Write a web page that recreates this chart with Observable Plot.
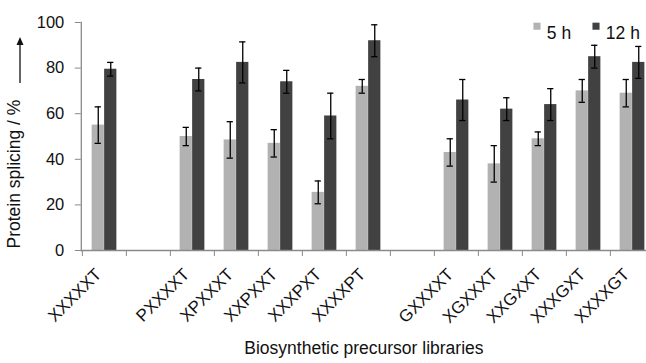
<!DOCTYPE html>
<html>
<head>
<meta charset="utf-8">
<script src="https://cdn.jsdelivr.net/npm/d3@7"></script>
<script src="https://cdn.jsdelivr.net/npm/@observablehq/plot@0.6"></script>
<style>
  html, body { margin: 0; padding: 0; background: #fff; overflow: hidden; }
</style>
</head>
<body>
<div id="chart"></div>
<script>
// ---- data ----
const slots = ["XXXXXT", "gap1", "PXXXXT", "XPXXXT", "XXPXXT", "XXXPXT", "XXXXPT", "gap2",
               "GXXXXT", "XGXXXT", "XXGXXT", "XXXGXT", "XXXXGT"];
const libraries = ["XXXXXT", "PXXXXT", "XPXXXT", "XXPXXT", "XXXPXT", "XXXXPT",
                   "GXXXXT", "XGXXXT", "XXGXXT", "XXXGXT", "XXXXGT"];
const h5    = [55, 50, 48.5, 47, 25.5, 72, 43, 38, 49, 70, 69];
const h5err = [8, 4, 8, 6, 5, 3, 6, 8, 3, 5, 6];
const h12    = [79.5, 75, 82.5, 74, 59, 92, 66, 62, 64, 85, 82.5];
const h12err = [3, 5, 9, 5, 10, 7, 9, 5, 7, 5, 7];
const yTicks = [0, 20, 40, 60, 80, 100];
const seriesNames = ["5 h", "12 h"];
const colors = ["#b2b2b2", "#414141"];

// ---- layout ----
const W = 646, H = 363;
const mL = 80.8, mR = -10, mT = 22, mB = 113;
const band = (W - mL - mR) / slots.length;
const barW = 12.5, capW = 6.5;
const pairL = (band - 2 * barW) / 2;

const rows5 = libraries.map((k, i) => ({lib: k, v: h5[i], e: h5err[i]}));
const rows12 = libraries.map((k, i) => ({lib: k, v: h12[i], e: h12err[i]}));

const lightC = pairL + barW / 2;
const darkC = pairL + barW * 1.5;
const axisGray = "#8a8a8a";
const FONT = "'Liberation Sans', Arial, sans-serif";

const plot = Plot.plot({
  width: W,
  height: H,
  marginLeft: mL,
  marginRight: mR,
  marginTop: mT,
  marginBottom: mB,
  style: {fontFamily: FONT, background: "#fff", overflow: "hidden"},
  x: {domain: slots, padding: 0, axis: null},
  y: {domain: [0, 100], axis: null},
  marks: [
    Plot.barY(rows5, {x: "lib", y: "v", fill: colors[0],
      insetLeft: pairL, insetRight: band - pairL - barW}),
    Plot.barY(rows12, {x: "lib", y: "v", fill: colors[1],
      insetLeft: pairL + barW, insetRight: pairL}),
    Plot.ruleX(rows5, {x: "lib", y1: d => d.v - d.e, y2: d => d.v + d.e,
      dx: lightC - band / 2, stroke: "#000", strokeWidth: 1.3}),
    Plot.ruleX(rows12, {x: "lib", y1: d => d.v - d.e, y2: d => d.v + d.e,
      dx: darkC - band / 2, stroke: "#000", strokeWidth: 1.3}),
    ...[rows5, rows12].flatMap((rows, s) => {
      const c = s === 0 ? lightC : darkC;
      const opts = {x: "lib", stroke: "#000", strokeWidth: 1.3,
        insetLeft: c - capW / 2, insetRight: band - c - capW / 2};
      return [
        Plot.tickY(rows, {...opts, y: d => d.v - d.e}),
        Plot.tickY(rows, {...opts, y: d => d.v + d.e})
      ];
    }),
    Plot.frame({anchor: "left", stroke: axisGray, strokeWidth: 1.3}),
    Plot.frame({anchor: "bottom", stroke: axisGray, strokeWidth: 1.3}),
    Plot.axisY({ticks: yTicks, tickSize: 6, tickPadding: 11, stroke: axisGray,
      fontSize: 16.5, fill: "#111", label: null}),
    Plot.axisX({ticks: slots, tickSize: 6, tickFormat: () => "", dx: -band / 2,
      stroke: axisGray, label: null}),
    Plot.axisX({ticks: slots, tickSize: 0, tickPadding: 21, tickRotate: -45, dx: -6,
      tickFormat: d => d.startsWith("gap") ? "" : d, fontSize: 17, fill: "#111", label: null}),
    Plot.text(["Protein splicing / %"], {frameAnchor: "bottom-left", rotate: -90,
      textAnchor: "start", dx: -61, dy: -2, fontSize: 17.5, fill: "#111"}),
    Plot.text(["Biosynthetic precursor libraries"], {frameAnchor: "bottom",
      dx: -5, dy: 103, fontSize: 17.5, fill: "#111"}),
    ...seriesNames.flatMap((name, i) => {
      const off = i === 0 ? 0 : 59;
      return [
        Plot.dot([name], {frameAnchor: "top-left", dx: 455.7 + off, dy: 3.7,
          symbol: "square", r: 4, fill: colors[i], stroke: null}),
        Plot.text([name], {frameAnchor: "top-left", dx: 465.5 + off, dy: 4.5,
          textAnchor: "start", fontSize: 17.5, fill: "#111"})
      ];
    })
  ]
});

const svg = d3.select(plot);
const ax = 20, ay1 = 83, ay2 = 37;
svg.append("line").attr("x1", ax).attr("x2", ax).attr("y1", ay1).attr("y2", ay2 + 6)
  .attr("stroke", "#111").attr("stroke-width", 1.3);
svg.append("path").attr("d", `M${ax},${ay2} L${ax - 3.5},${ay2 + 8} L${ax + 3.5},${ay2 + 8} Z`)
  .attr("fill", "#111");

document.getElementById("chart").appendChild(plot);
</script>
</body>
</html>
